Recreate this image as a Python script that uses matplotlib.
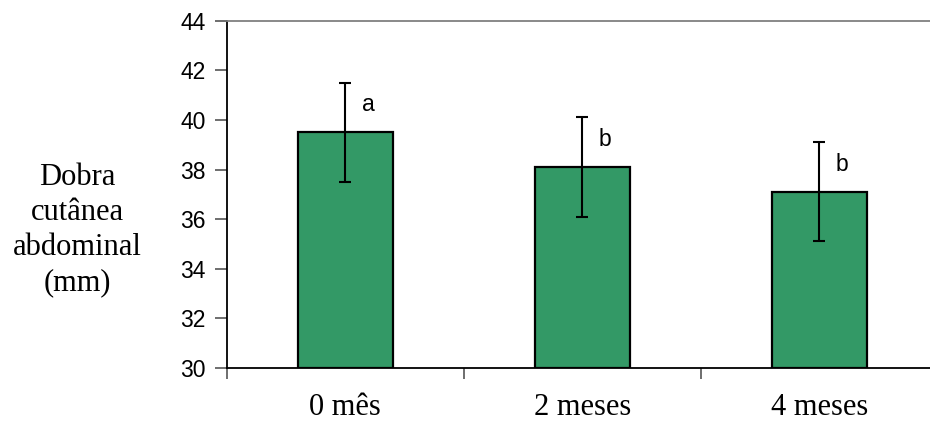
import matplotlib.pyplot as plt

categories = ['0 mês', '2 meses', '4 meses']
means = [39.5, 38.1, 37.1]
sds = [2.0, 2.0, 2.0]
letters = ['a', 'b', 'b']

fig = plt.figure(figsize=(9.3, 4.25), dpi=100)
ax = fig.add_axes([0.2438, 0.1341, 0.7645, 0.8172])

x = list(range(len(categories)))
ax.bar(x, [m - 30 for m in means], bottom=30, width=0.4, color='#339966',
       edgecolor='black', linewidth=1.6, zorder=2)
ax.errorbar(x, means, yerr=sds, fmt='none', ecolor='black', elinewidth=1.5,
            capsize=4.5, capthick=1.5, zorder=3)

# significance letters next to the error bar caps
for i in x:
    ax.text(i + 0.07, means[i] + sds[i] - 1.15, letters[i], fontsize=16.5,
            family='Liberation Sans', ha='left', va='baseline')

ax.set_xlim(-0.5, 2.5)
ax.set_ylim(30, 44)
ax.set_yticks(range(30, 45, 2))
ax.set_yticklabels([str(v) for v in range(30, 45, 2)], family='Liberation Sans', fontsize=16.5)

# category labels between boundary ticks
ax.set_xticks([-0.5, 0.5, 1.5, 2.5])
ax.set_xticklabels([])
ax.set_xticks(x, minor=True)
ax.set_xticklabels(categories, minor=True, family='Liberation Serif', fontsize=22)
ax.tick_params(axis='x', which='minor', length=0, pad=18)
ax.tick_params(axis='x', which='major', length=8, color='#555555', width=1.2)
ax.tick_params(axis='y', length=9, color='#555555', width=1.2, pad=6)

ax.spines['right'].set_visible(False)
ax.spines['top'].set_color('#808080')
ax.spines['top'].set_linewidth(1.3)
ax.spines['left'].set_linewidth(1.3)
ax.spines['bottom'].set_linewidth(1.3)

fig.text(77 / 930, 1 - 230 / 425, 'Dobra\ncutânea\nabdominal\n(mm)', family='Liberation Serif',
         fontsize=22, ha='center', va='center', linespacing=1.28)

fig.savefig('out.png', dpi=100)
